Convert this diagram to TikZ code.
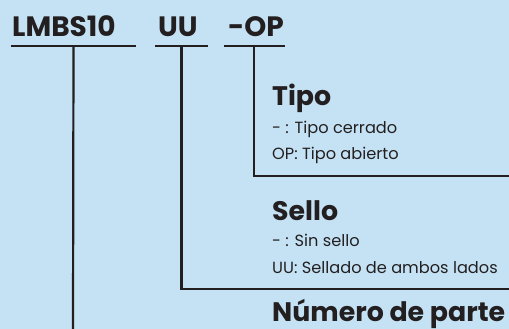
\documentclass[tikz,border=0pt]{standalone}
\usepackage{fontspec}
\setmainfont{Poppins}
\usetikzlibrary{positioning}
\definecolor{bgblue}{HTML}{C4E2F4}
\definecolor{inkdark}{HTML}{231F20}
\tikzset{
  codetxt/.style={font=\fontsize{28}{28}\selectfont\bfseries, text=inkdark,
    inner sep=0pt, anchor=base west},
  titletxt/.style={font=\fontsize{26.8}{26.8}\selectfont\bfseries, text=inkdark,
    inner sep=0pt, anchor=base west},
  infotxt/.style={font=\fontsize{16.2}{16.2}\selectfont, text=inkdark,
    inner sep=0pt, anchor=base west},
  bar/.style={fill=inkdark, inner sep=0pt, minimum height=2.2pt},
  rule/.style={draw=inkdark, line width=2.2pt},
}

\begin{document}
\begin{tikzpicture}[x=1pt, y=-1pt]
  % background
  \fill[bgblue] (0,0) rectangle (509,329);
  \useasboundingbox (0,0) rectangle (509,329);

  % part code
  \node[codetxt] (lmbs) at (12,37) {LMBS10};
  \node[codetxt] (uu) at (158,37) {UU};
  \node[codetxt] (op) at (228,37) {-OP};
  \node[bar, minimum width=125pt] (lmbsbar) at (73.5,46) {};
  \node[bar, minimum width=53pt] (uubar) at (181.5,46) {};
  \node[bar, minimum width=61pt] (opbar) at (254,46) {};

  % Tipo
  \node[titletxt] (tipo) at (272,106) {Tipo};
  \node[infotxt] (tipoa) at (272,133) {- : Tipo cerrado};
  \node[infotxt] (tipob) at (272,159) {OP: Tipo abierto};

  % Sello
  \node[titletxt] (sello) at (272,220) {Sello};
  \node[infotxt] (selloa) at (272,246) {- : Sin sello};
  \node[infotxt] (sellob) at (272,273) {UU: Sellado de ambos lados};

  % Numero de parte
  \node[titletxt] (numero) at (272,321) {Número de parte};

  % connectors
  \coordinate (tipoend) at (509,176);
  \coordinate (selloend) at (509,289);
  \coordinate (numend) at (73,329);
  \draw[rule] (opbar.center) |- (tipoend);
  \draw[rule] (uubar.center) |- (selloend);
  \draw[rule] (lmbsbar.center) -- (numend);
\end{tikzpicture}
\end{document}
